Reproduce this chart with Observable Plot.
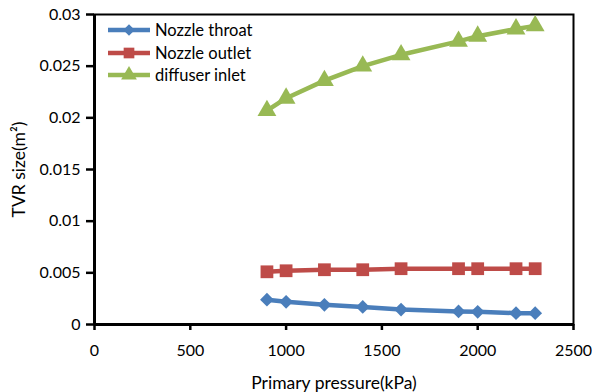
<!DOCTYPE html>
<html>
<head>
<meta charset="utf-8">
<script src="https://cdn.jsdelivr.net/npm/d3@7"></script>
<script src="https://cdn.jsdelivr.net/npm/@observablehq/plot@0.6"></script>
<style>
  html, body { margin: 0; padding: 0; background: #fff; }
  #wrap { position: relative; width: 592px; height: 392px; font-family: Lato, "Open Sans", sans-serif; }
  #legend { position: absolute; left: 106px; top: 19px; font-size: 16.5px; color: #000; }
  #legend .row { display: flex; align-items: center; height: 22.5px; }
  #legend svg { margin-right: 3px; }
  #chart svg g[aria-label="x-axis label"] text, #chart svg g[aria-label="y-axis label"] text { font-size: 17.5px; }
</style>
</head>
<body>
<div id="wrap"><div id="chart"></div><div id="legend"></div></div>
<script>
const pressure = [900, 1000, 1200, 1400, 1600, 1900, 2000, 2200, 2300];
const nozzleThroat = [0.0024, 0.0022, 0.0019, 0.0017, 0.00145, 0.00126, 0.00123, 0.0011, 0.0011];
const nozzleOutlet = [0.0051, 0.0052, 0.0053, 0.0053, 0.0054, 0.0054, 0.0054, 0.0054, 0.0054];
const diffuserInlet = [0.0207, 0.0219, 0.0236, 0.0250, 0.0261, 0.0274, 0.0279, 0.0286, 0.0289];
const seriesNames = ["Nozzle throat", "Nozzle outlet", "diffuser inlet"];
const seriesColors = ["#4A7EBB", "#BE4B48", "#98B954"];
const seriesSymbols = ["diamond2", "square", "triangle"];
const seriesR = [6.2, 7.2, 7.0];
const xTicks = [0, 500, 1000, 1500, 2000, 2500];
const yTicks = [0, 0.005, 0.01, 0.015, 0.02, 0.025, 0.03];

const seriesValues = [nozzleThroat, nozzleOutlet, diffuserInlet];
const data = seriesValues.flatMap((vals, s) => vals.map((v, i) => ({series: seriesNames[s], x: pressure[i], y: v, s})));

const lineMarks = seriesNames.map((name, s) =>
  Plot.line(data.filter(d => d.s === s), {x: "x", y: "y", stroke: seriesColors[s], strokeWidth: 4.5})
);
const dotMarks = seriesNames.map((name, s) =>
  Plot.dot(data.filter(d => d.s === s), {x: "x", y: "y", fill: seriesColors[s], symbol: seriesSymbols[s], r: seriesR[s], stroke: "none"})
);

const chart = Plot.plot({
  width: 592,
  height: 392,
  marginLeft: 94,
  marginRight: 19,
  marginTop: 14,
  marginBottom: 68,
  style: {fontFamily: "Lato, 'Open Sans', sans-serif", fontSize: "16px", color: "#000", background: "#fff"},
  x: {domain: [0, 2500]},
  y: {domain: [0, 0.03]},
  marks: [
    Plot.frame({stroke: "#000", strokeWidth: 2}),
    ...lineMarks,
    ...dotMarks,
    Plot.axisY({ticks: yTicks, tickFormat: d => String(d), tickSize: 8, tickPadding: 6, strokeWidth: 2.5,
      label: "TVR size(m²)", labelAnchor: "center", labelArrow: "none", labelOffset: 82}),
    Plot.axisX({ticks: xTicks, tickFormat: d => String(d), tickSize: 6, tickPadding: 14, strokeWidth: 2.5,
      label: "Primary pressure(kPa)", labelAnchor: "center", labelArrow: "none", labelOffset: 64}),
    Plot.ruleX([0], {stroke: "#000", strokeWidth: 3}),
    Plot.ruleY([0], {stroke: "#000", strokeWidth: 3})
  ]
});
document.getElementById("chart").appendChild(chart);

const legend = d3.select("#legend");
seriesNames.forEach((name, s) => {
  const row = legend.append("div").attr("class", "row");
  const svg = row.append("svg").attr("width", 46).attr("height", 20);
  svg.append("line").attr("x1", 2).attr("x2", 44).attr("y1", 10).attr("y2", 10)
    .attr("stroke", seriesColors[s]).attr("stroke-width", 4.5);
  const sym = {diamond2: d3.symbolDiamond2, square: d3.symbolSquare, triangle: d3.symbolTriangle}[seriesSymbols[s]];
  svg.append("path").attr("transform", "translate(23,10)")
    .attr("d", d3.symbol(sym, Math.PI * seriesR[s] * seriesR[s] * 0.7)())
    .attr("fill", seriesColors[s]);
  row.append("span").text(name);
});
</script>
</body>
</html>
